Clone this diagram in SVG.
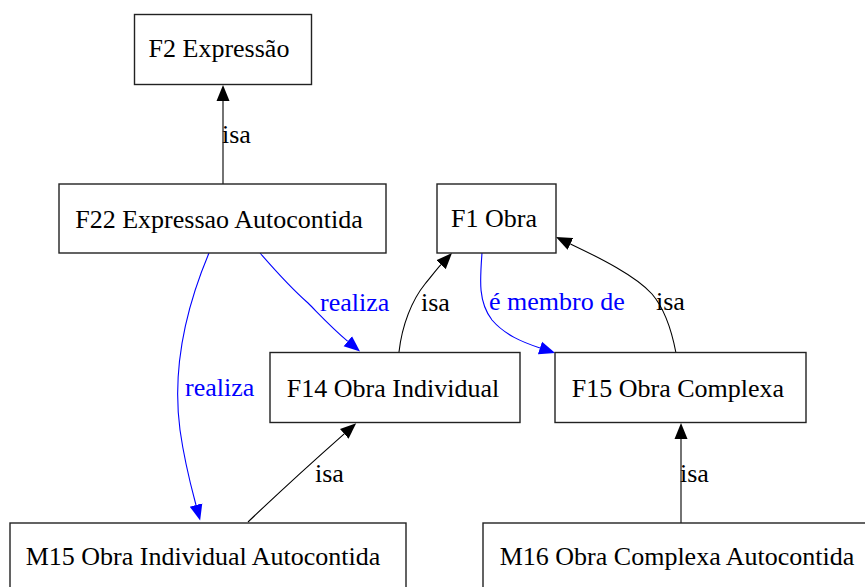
<svg xmlns="http://www.w3.org/2000/svg" width="865" height="587" viewBox="0 0 865 587">
<style>
.box{fill:#fff;stroke:#222;stroke-width:1.4}
.nt{font-family:"Liberation Serif","Times New Roman",serif;font-size:26px;fill:#000;text-anchor:middle}
.lbl{font-family:"Liberation Serif","Times New Roman",serif;font-size:26px;text-anchor:start}
.blk{fill:#000}
.blu{fill:#0000ff}
.e{fill:none;stroke-width:1.1}
.eb{stroke:#000;marker-end:url(#ab)}
.eu{stroke:#0000ff;marker-end:url(#au)}
</style>
<defs>
<marker id="ab" markerUnits="userSpaceOnUse" markerWidth="17" markerHeight="14" refX="0" refY="7" orient="auto"><path d="M0,0.5 L16,7 L0,13.5 z" fill="#000"/></marker>
<marker id="au" markerUnits="userSpaceOnUse" markerWidth="17" markerHeight="14" refX="0" refY="7" orient="auto"><path d="M0,0.5 L16,7 L0,13.5 z" fill="#0000ff"/></marker>
</defs>
<rect width="865" height="587" fill="#fff"/>
<g id="edges">
<path class="e eb" d="M223,184 L223,101"/>
<text class="lbl blk" x="222" y="143">isa</text>
<path class="e eu" d="M260,253 C280,276 300,296 308,303 C320,315 332,328 347.8,341.3"/>
<text class="lbl blu" x="320" y="311">realiza</text>
<path class="e eu" d="M209,253 C185,310 172,370 180,430 C185,465 192,490 196,505"/>
<text class="lbl blu" x="185" y="396">realiza</text>
<path class="e eb" d="M399,352 C402,325 412,300 425,284 C431,277 436,270 441,264.7"/>
<text class="lbl blk" x="421" y="311">isa</text>
<path class="e eu" d="M482,253 C480,280 478,302 492,320 C505,335 522,342 540,348"/>
<text class="lbl blu" x="489" y="310">é membro de</text>
<path class="e eb" d="M676,353 C672,332 664,308 652,294 C636,276 600,258 570.4,243.9"/>
<text class="lbl blk" x="656" y="310">isa</text>
<path class="e eb" d="M681,523 L681,439"/>
<text class="lbl blk" x="680" y="482">isa</text>
<path class="e eb" d="M248,522 C272,499 318,457 344.2,433.8"/>
<text class="lbl blk" x="315" y="482">isa</text>
</g>
<g id="F2"><rect class="box" x="134.5" y="14.5" width="177" height="70"/><text class="nt" x="219" y="57">F2 Expressão</text></g>
<g id="F22"><rect class="box" x="59" y="184" width="327" height="69"/><text class="nt" x="219" y="228">F22 Expressao Autocontida</text></g>
<g id="F1"><rect class="box" x="437" y="184" width="119" height="69"/><text class="nt" x="494" y="227">F1 Obra</text></g>
<g id="F14"><rect class="box" x="270" y="352.5" width="250" height="70"/><text class="nt" x="393" y="397">F14 Obra Individual</text></g>
<g id="F15"><rect class="box" x="555" y="352.5" width="251" height="70"/><text class="nt" x="678" y="397">F15 Obra Complexa</text></g>
<g id="M15"><rect class="box" x="10" y="523" width="396" height="70"/><text class="nt" x="203" y="565">M15 Obra Individual Autocontida</text></g>
<g id="M16"><rect class="box" x="483" y="523" width="390" height="70"/><text class="nt" x="677" y="565">M16 Obra Complexa Autocontida</text></g>
</svg>
